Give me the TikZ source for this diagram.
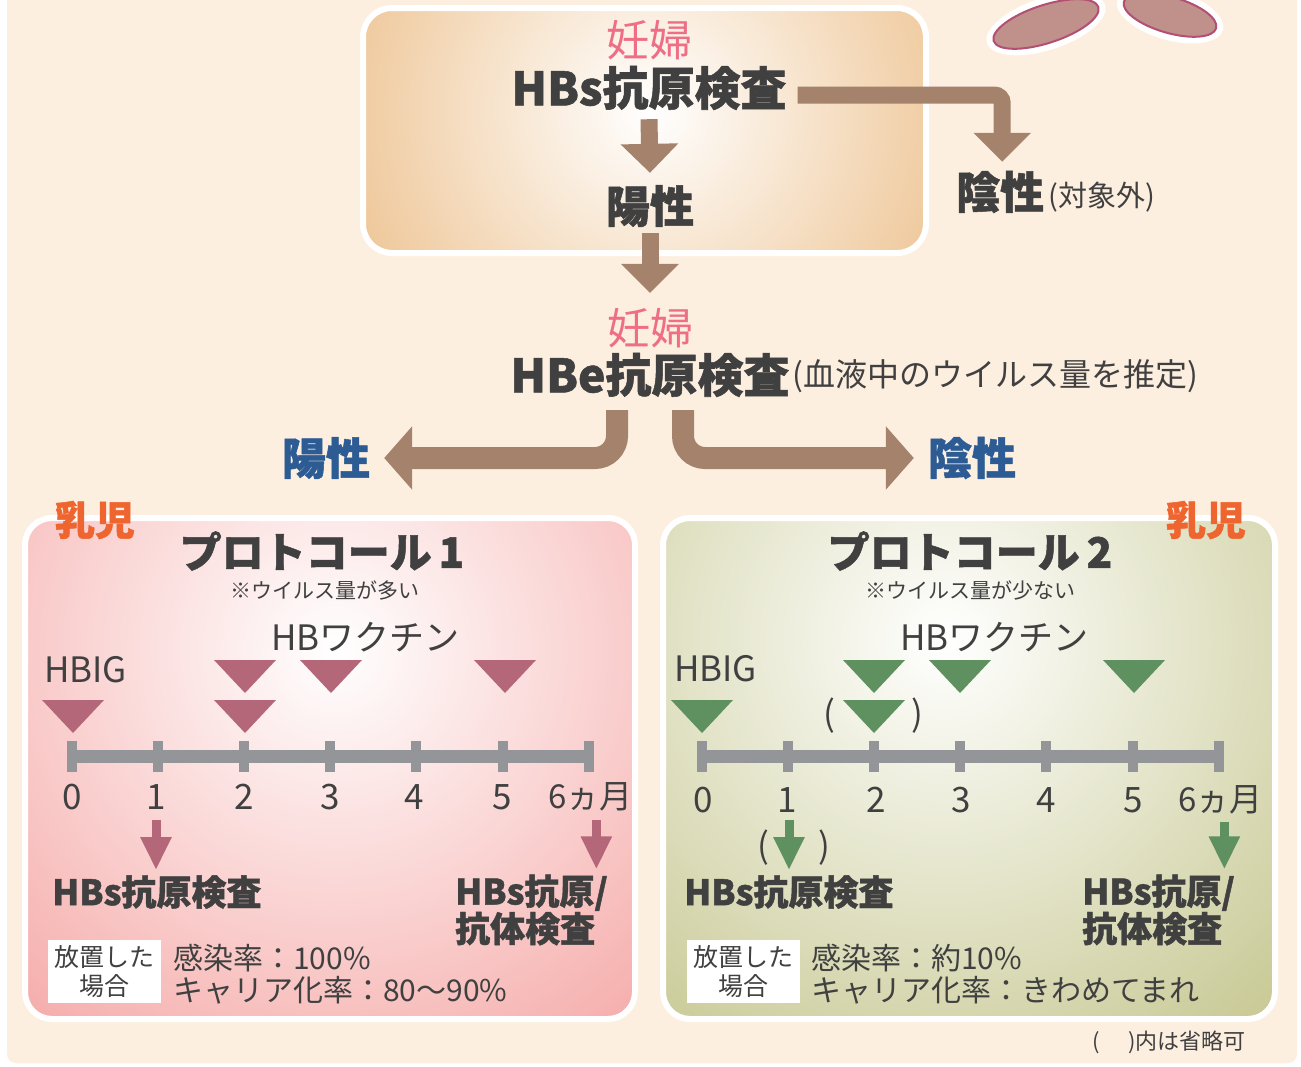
\documentclass[tikz,border=0pt]{standalone}
\usepackage{fontspec}
\setmainfont[BoldFeatures={FakeBold=1.2}]{Noto Sans CJK JP}
\usepackage{xcolor}
\usepackage{tikz}
\usetikzlibrary{arrows.meta}

\definecolor{cream}{HTML}{FDEFE0}
\definecolor{ink}{HTML}{404040}
\definecolor{rosy}{HTML}{EE6E86}
\definecolor{mud}{HTML}{A4826C}
\definecolor{navy}{HTML}{2D5C94}
\definecolor{carrot}{HTML}{EE6530}
\definecolor{boxtan}{HTML}{EEC595}
\definecolor{panelpink}{HTML}{F5ADAB}
\definecolor{panelolive}{HTML}{CACB98}
\definecolor{tripink}{HTML}{B5677A}
\definecolor{trigreen}{HTML}{5E9060}
\definecolor{railgray}{HTML}{939598}
\definecolor{shoe}{HTML}{C0908A}
\definecolor{shoeline}{HTML}{B24F72}

\newcommand\setfs[2]{\fontsize{#1pt}{#2pt}\selectfont}

\begin{document}
\begin{tikzpicture}[x=1pt,y=-1pt,
  every node/.style={inner sep=0pt,text=ink},
  pinkname/.style={text=rosy,font=\setfs{43}{46}},
  headline/.style={font=\setfs{46}{50}\bfseries},
  verdict/.style={font=\setfs{44}{48}\bfseries},
  aside/.style={font=\setfs{29}{32}},
  baby/.style={text=carrot,font=\setfs{40}{44}\bfseries},
  protocol/.style={font=\setfs{42}{46}\bfseries},
  remark/.style={font=\setfs{21}{24}},
  shot/.style={font=\setfs{35}{38}},
  month/.style={font=\setfs{35}{38}},
  exam/.style={font=\setfs{35}{36}\bfseries,align=left},
  untreated/.style={fill=white,minimum width=113pt,minimum height=63pt,align=center,font=\setfs{25}{29}},
  rate/.style={font=\setfs{30}{32},align=left},
  bigarrow/.style={draw=mud,line width=17pt,-{Triangle[width=56pt,length=29pt]}},
  forkarrow/.style={draw=mud,line width=22pt,rounded corners=22pt,-{Triangle[width=62pt,length=28pt]}},
  examarrow/.style={line width=9pt,-{Triangle[width=29pt,length=33pt]}},
  rail/.style={draw=railgray,line width=13pt},
  tick/.style={draw=railgray,line width=10pt}]

\useasboundingbox (0,0) rectangle (1301,1066);
\fill[white] (0,0) rectangle (1301,1066);
\fill[cream,rounded corners=9] (7,-20) rectangle (1297,1063);

% shoes peeking in at the top
\begin{scope}[shift={(1046,24)},rotate=18]
\fill[white] (0,0) ellipse (62 and 26);
\filldraw[fill=shoe,draw=shoeline,line width=2] (0,0) ellipse (55 and 19);
\end{scope}
\begin{scope}[shift={(1170,15)},rotate=-16]
\fill[white] (0,0) ellipse (55 and 25);
\filldraw[fill=shoe,draw=shoeline,line width=2] (0,0) ellipse (48 and 18);
\end{scope}

% mother: HBs antigen
\begin{scope}
\clip[rounded corners=26] (366,11) rectangle (923,250);
\fill[boxtan] (366,11) rectangle (923,250);
\shade[inner color=white,outer color=boxtan] (650,110) circle (330);
\end{scope}
\draw[white,line width=6,rounded corners=29] (363,8) rectangle (926,253);

\node[pinkname] (mom1) at (649,40) {妊婦};
\node[headline] (hbs) at (649,88) {HBs抗原検査};
\node[verdict] (pos) at (650,206) {陽性};
\node[verdict,anchor=west] (neg) at (956,192) {陰性};
\node[aside,anchor=west] (outside) at (1048,197) {(対象外)};
\draw[bigarrow] ([yshift=-9pt]hbs.south) -- ([yshift=12pt]pos.north);
\draw[bigarrow,rounded corners=8] ([xshift=11pt,yshift=-7pt]hbs.east) -| ([xshift=2pt,yshift=9pt]neg.north);

% mother: HBe antigen
\node[pinkname] (mom2) at (650,328) {妊婦};
\node[headline] (hbe) at (650,375) {HBe抗原検査};
\node[aside,font=\setfs{32}{34},anchor=west] (blood) at (792,376) {(血液中のウイルス量を推定)};
\draw[bigarrow] ([yshift=-6pt]pos.south) -- ([yshift=15pt]mom2.north);

\node[verdict,text=navy] (pos1) at (326,458) {陽性};
\node[verdict,text=navy] (neg1) at (972,458) {陰性};
\draw[forkarrow] ([xshift=-33pt,yshift=-13pt]hbe.south) |- ([xshift=14pt]pos1.east);
\draw[forkarrow] ([xshift=33pt,yshift=-13pt]hbe.south) |- ([xshift=-14pt]neg1.west);

% protocol 1
\begin{scope}
\clip[rounded corners=24] (28,521) rectangle (632,1016);
\fill[panelpink] (28,521) rectangle (632,1016);
\shade[inner color=white,outer color=panelpink] (335,650) circle (480);
\end{scope}
\draw[white,line width=6,rounded corners=27] (25,518) rectangle (635,1019);

\node[baby] (baby1) at (95,520) {乳児};
\node[protocol] (proto1) at (322,551) {プロトコール\,1};
\node[remark] (note1) at (325,590) {※ウイルス量が多い};
\node[shot,anchor=west] (vac1) at (271,637) {HBワクチン};
\node[shot,anchor=west] (hbig1) at (44,670) {HBIG};

\fill[tripink] (42,700) -- ++(62,0) -- ++(-31,33) -- cycle;
\fill[tripink] (214,660) -- ++(62,0) -- ++(-31,33) -- cycle;
\fill[tripink] (214,700) -- ++(62,0) -- ++(-31,33) -- cycle;
\fill[tripink] (300,660) -- ++(62,0) -- ++(-31,33) -- cycle;
\fill[tripink] (474,660) -- ++(62,0) -- ++(-31,33) -- cycle;

\draw[rail] (72,756) -- (589,756);
\draw[tick] (72,741) -- (72,772);
\draw[tick] (158,741) -- (158,772);
\draw[tick] (244,741) -- (244,772);
\draw[tick] (330,741) -- (330,772);
\draw[tick] (416,741) -- (416,772);
\draw[tick] (503,741) -- (503,772);
\draw[tick] (589,741) -- (589,772);

\node[month] (a0) at (72,797) {0};
\node[month] (a1) at (156,797) {1};
\node[month] (a2) at (244,797) {2};
\node[month] (a3) at (330,797) {3};
\node[month] (a4) at (414,797) {4};
\node[month] (a5) at (502,797) {5};
\node[month,font=\setfs{33}{36},anchor=west] (a6) at (548,797) {6ヵ月};

\node[exam,anchor=west] (chk1) at (52,892) {HBs抗原検査};
\node[exam,anchor=west] (chk2) at (455,910) {HBs抗原/\\抗体検査};
\draw[examarrow,draw=tripink] ([yshift=-10pt]a1.south) -- ([yshift=5pt]a1.south |- chk1.north);
\draw[examarrow,draw=tripink] ([xshift=6pt,yshift=-8pt]a6.south) -- ([xshift=6pt,yshift=5pt]a6.south |- chk2.north);

\node[untreated] (idle1) at (104.5,971.5) {放置した\\場合};
\node[rate,anchor=west] (rate1) at (173,974) {感染率：100\%\\キャリア化率：80〜90\%};

% protocol 2
\begin{scope}
\clip[rounded corners=24] (666,521) rectangle (1272,1016);
\fill[panelolive] (666,521) rectangle (1272,1016);
\shade[inner color=white,outer color=panelolive] (945,640) circle (480);
\end{scope}
\draw[white,line width=6,rounded corners=27] (663,518) rectangle (1275,1019);

\node[baby] (baby2) at (1206,520) {乳児};
\node[protocol] (proto2) at (970,551) {プロトコール\,2};
\node[remark] (note2) at (970,590) {※ウイルス量が少ない};
\node[shot,anchor=west] (vac2) at (900,637) {HBワクチン};
\node[shot,anchor=west] (hbig2) at (674,669) {HBIG};

\fill[trigreen] (671,700) -- ++(62,0) -- ++(-31,33) -- cycle;
\fill[trigreen] (843,660) -- ++(62,0) -- ++(-31,33) -- cycle;
\fill[trigreen] (843,700) -- ++(62,0) -- ++(-31,33) -- cycle;
\fill[trigreen] (929,660) -- ++(62,0) -- ++(-31,33) -- cycle;
\fill[trigreen] (1103,660) -- ++(62,0) -- ++(-31,33) -- cycle;
\node[month] (lp1) at (829,716) {(};
\node[month] (rp1) at (917,716) {)};

\draw[rail] (702,756) -- (1219,756);
\draw[tick] (702,741) -- (702,772);
\draw[tick] (788,741) -- (788,772);
\draw[tick] (874,741) -- (874,772);
\draw[tick] (960,741) -- (960,772);
\draw[tick] (1046,741) -- (1046,772);
\draw[tick] (1133,741) -- (1133,772);
\draw[tick] (1219,741) -- (1219,772);

\node[month] (b0) at (703,800) {0};
\node[month] (b1) at (787,800) {1};
\node[month] (b2) at (876,800) {2};
\node[month] (b3) at (961,800) {3};
\node[month] (b4) at (1046,800) {4};
\node[month] (b5) at (1133,800) {5};
\node[month,font=\setfs{33}{36},anchor=west] (b6) at (1178,800) {6ヵ月};

\node[exam,anchor=west] (chk3) at (684,892) {HBs抗原検査};
\node[exam,anchor=west] (chk4) at (1082,910) {HBs抗原/\\抗体検査};
\node[month] (lp2) at (763,848) {(};
\node[month] (rp2) at (824,848) {)};
\draw[examarrow,draw=trigreen] ([xshift=2pt,yshift=-7pt]b1.south) -- ([xshift=2pt,yshift=5pt]b1.south |- chk3.north);
\draw[examarrow,draw=trigreen] ([xshift=4pt,yshift=-7pt]b6.south) -- ([xshift=4pt,yshift=5pt]b6.south |- chk4.north);

\node[untreated] (idle2) at (743,971.5) {放置した\\場合};
\node[rate,anchor=west] (rate2) at (811,974) {感染率：約10\%\\キャリア化率：きわめてまれ};

\node[font=\setfs{22}{24},anchor=west] (omit) at (1092,1042) {(\hspace{1.3em})内は省略可};
\end{tikzpicture}
\end{document}
